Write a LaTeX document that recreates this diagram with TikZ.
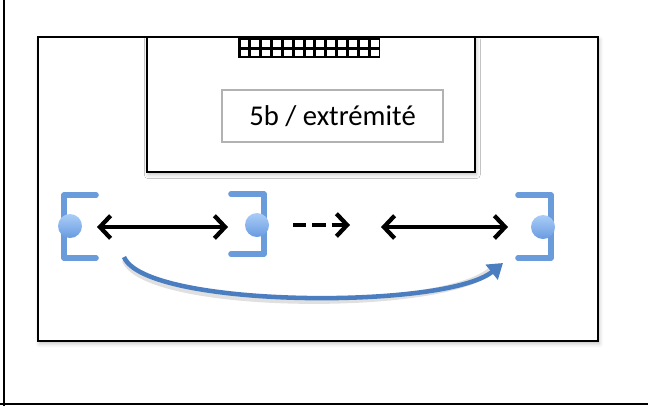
\documentclass[tikz,border=0pt]{standalone}
\usepackage{fontspec}
\setmainfont{Carlito}
\usetikzlibrary{arrows.meta,shadows.blur}
\definecolor{playerblue}{RGB}{106,155,219}
\definecolor{passblue}{RGB}{74,126,192}
\definecolor{balltop}{RGB}{170,205,247}
\definecolor{ballbottom}{RGB}{105,155,225}

\begin{document}
\begin{tikzpicture}[x=0.75pt,y=-0.75pt,
  pageline/.style={draw=black,line width=2.1pt},
  field/.style={draw=black,line width=2pt,fill=white,
    blur shadow={shadow xshift=1pt,shadow yshift=-2pt,shadow blur radius=3pt,shadow opacity=25}},
  tag/.style={draw=black!30,line width=1.2pt,fill=white,inner sep=0pt,
    minimum width=165.75pt,minimum height=39pt,
    font=\fontsize{21.5}{24}\selectfont},
  bracket/.style={draw=playerblue,line width=4.2pt,line join=round,line cap=round},
  ball/.style={circle,inner sep=0pt,minimum size=18pt,
    top color=balltop,bottom color=ballbottom},
  move/.style={draw=black,line width=3.2pt,
    arrows={Straight Barb[length=8pt,width=17pt]-Straight Barb[length=8pt,width=17pt]}},
  run/.style={draw=black,line width=3.2pt,dash pattern=on 10pt off 4.5pt,
    -{Straight Barb[length=8pt,width=17pt]}},
  pass/.style={draw=passblue,line width=3.4pt,
    -{Triangle[length=11pt,width=14pt]}},
  passshadow/.style={draw=black,opacity=0.12,line width=5pt}]

\useasboundingbox (0,0) rectangle (648,408);

% page edges
\draw[pageline] (4,0) -- (4,406);
\draw[pageline] (0,404) -- (648,404);

% pitch and goal area
\path[field] (38,37) rectangle (598,341);
\path[field] (147,37) rectangle (475,172);

% goal net
\fill[black] (238,37) rectangle (380,58);
\foreach \i in {0,...,12}{
  \fill[white] ({240.5+10.85*\i},40) rectangle ({248.3+10.85*\i},47);
  \fill[white] ({240.5+10.85*\i},49.5) rectangle ({248.3+10.85*\i},56);
}

% label
\node[tag] (label) at (332.5,116) {5b / extrémité};

% players
\draw[bracket] (96,195) -- (64,195) -- (64,258) -- (96,258);
\node[ball] (p1) at (70,226) {};
\draw[bracket] (231,194) -- (264,194) -- (264,254) -- (231,254);
\node[ball] (p2) at (257,225) {};
\draw[bracket] (518,195) -- (551,195) -- (551,258) -- (518,258);
\node[ball] (p3) at (543,227) {};

% arrow end points
\coordinate (a1) at (97,227);
\coordinate (a2) at (228,227);
\coordinate (r1) at (293,225);
\coordinate (r2) at (350,225);
\coordinate (b1) at (381,227);
\coordinate (b2) at (508,227);
\coordinate (c1) at (124,257);
\coordinate (c2) at (503,263);
\coordinate (c1s) at (125,260);
\coordinate (c2s) at (490,271);

\draw[move] (a1) -- (a2);
\draw[run] (r1) -- (r2);
\draw[move] (b1) -- (b2);
\draw[passshadow] (c1s) .. controls (146,311) and (440,313) .. (c2s);
\draw[pass] (c1) .. controls (145,308) and (445,310) .. (c2);

\end{tikzpicture}
\end{document}
